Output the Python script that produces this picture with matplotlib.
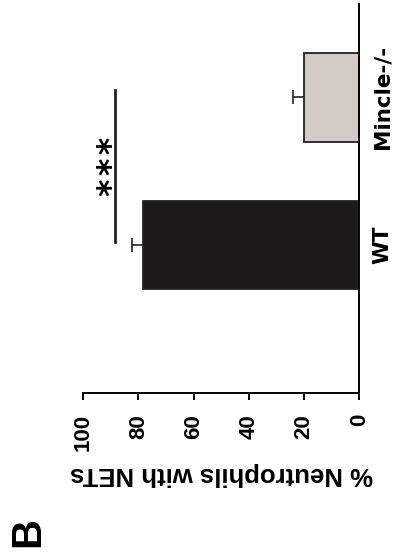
import matplotlib.pyplot as plt

# data (chart is drawn rotated 90 degrees, so bars grow to the left)
groups = ["WT", "Mincle-/-"]
means = [78.4, 19.9]
sems = [3.8, 4.0]
bar_colors = ["#1c1a17", "#d3cbc6"]
ticks = [0, 20, 40, 60, 80, 100]
sig_text = "*\u200a*\u200a*"

plt.rcParams['font.family'] = ['Liberation Sans', 'DejaVu Sans']
plt.rcParams['font.weight'] = 'bold'

fig = plt.figure(figsize=(3.97, 5.60), dpi=100)
ax = fig.add_axes([83 / 397, 1 - 393 / 560, (359.3 - 83) / 397, (393 - 4) / 560])

pos = list(range(len(groups)))
ax.errorbar(means, pos, xerr=sems, fmt='none', ecolor='#222222',
            elinewidth=1.2, capsize=5, capthick=1.2, zorder=1)
ax.barh(pos, means, height=0.6, color=bar_colors, edgecolor='#222222',
        linewidth=1.3, zorder=2)

ax.set_xlim(100, 0)
ax.set_ylim(-1.0, 1.63)

ax.set_xticks(ticks)
ax.set_xticklabels([str(t) for t in ticks], rotation=90, fontsize=16, fontweight='bold')
ax.tick_params(axis='x', length=5, width=1.4, pad=10)
ax.set_xlabel("% Neutrophils with NETs", rotation=180, fontsize=18.5,
              fontweight='bold', labelpad=8)

ax.yaxis.tick_right()
ax.set_yticks(pos)
ax.set_yticklabels(groups, rotation=90, va='center', fontsize=15.5,
                   fontweight='bold', family='DejaVu Sans')
ax.tick_params(axis='y', length=0, pad=9.2)

for s in ['top', 'left']:
    ax.spines[s].set_visible(False)
for s in ['bottom', 'right']:
    ax.spines[s].set_linewidth(1.4)

# significance bracket
ax.plot([88.4, 88.4], [0.02, 1.05], color='#222222', lw=2)
ax.text(89.5, 0.53, sig_text, rotation=90, ha='center', va='center',
        fontsize=24, family='DejaVu Sans', fontweight='bold')

fig.text(28 / 397, 1 - 532 / 560, "B", rotation=90, ha='center', va='center',
         fontsize=30, fontweight='bold')

fig.savefig("out.png", dpi=100)
